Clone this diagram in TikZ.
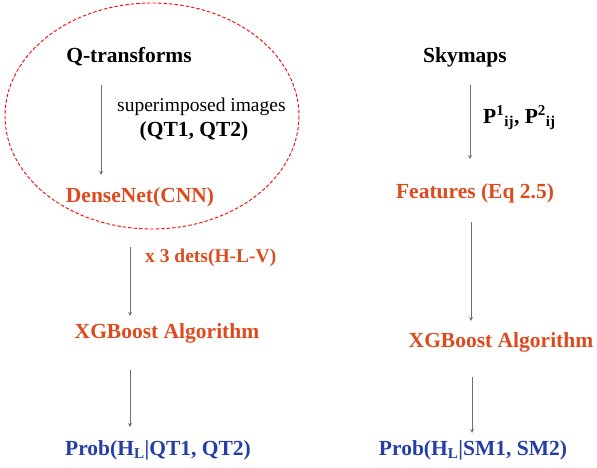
\documentclass[tikz,border=0pt]{standalone}
\usepackage{fontspec}
\setmainfont{Liberation Serif}
\definecolor{stage}{RGB}{221,74,30}
\definecolor{result}{RGB}{36,62,165}
\definecolor{flow}{RGB}{110,110,110}
\tikzset{
  title/.style={inner sep=0pt, font=\fontsize{21.5}{25}\selectfont\bfseries},
  stage/.style={title, text=stage},
  result/.style={title, text=result},
  note/.style={inner sep=0pt, font=\fontsize{19.5}{23}\selectfont},
  flow/.style={->, >=stealth, draw=flow, line width=0.8pt}
}
\begin{document}
\begin{tikzpicture}[x=1pt, y=-1pt]
  \useasboundingbox (0,0) rectangle (597,468);
  % left branch: Q-transforms
  \draw[red, dash pattern=on 3.5pt off 2pt, line width=0.9pt] (152,116) ellipse [x radius=147, y radius=113];
  \node[title] (qt) at (129,57) {Q-transforms};
  \node[note, anchor=west] (sup) at (117,107) {superimposed images};
  \node[title] (qtpair) at (194,131) {(QT1, QT2)};
  \node[stage] (dense) at (140,197) {DenseNet(CNN)};
  \node[stage, anchor=west, font=\fontsize{19.5}{23}\selectfont\bfseries] (dets) at (145,258) {x 3 dets(H-L-V)};
  \node[stage] (xgbl) at (167,333) {XGBoost Algorithm};
  \node[result] (probl) at (158,450) {Prob(H\textsubscript{L}|QT1, QT2)};
  % right branch: skymaps
  \node[title] (sky) at (465,57) {Skymaps};
  \node[title, anchor=west] (pij) at (483,118) {P\textsuperscript{1}\textsubscript{ij}, P\textsuperscript{2}\textsubscript{ij}};
  \node[stage] (feat) at (475,193) {Features (Eq 2.5)};
  \node[stage] (xgbr) at (501,342) {XGBoost Algorithm};
  \node[result] (probr) at (473,450) {Prob(H\textsubscript{L}|SM1, SM2)};
  % connectors
  \coordinate (a1) at (101,85);  \coordinate (b1) at (101,175);
  \coordinate (a2) at (130,247); \coordinate (b2) at (130,316);
  \coordinate (a3) at (130,370); \coordinate (b3) at (130,427);
  \coordinate (a4) at (470,85);  \coordinate (b4) at (470,159);
  \coordinate (a5) at (471,222); \coordinate (b5) at (471,321);
  \coordinate (a6) at (472,377); \coordinate (b6) at (472,433);
  \draw[flow] (a1) -- (b1);
  \draw[flow] (a2) -- (b2);
  \draw[flow] (a3) -- (b3);
  \draw[flow] (a4) -- (b4);
  \draw[flow] (a5) -- (b5);
  \draw[flow] (a6) -- (b6);
\end{tikzpicture}
\end{document}
